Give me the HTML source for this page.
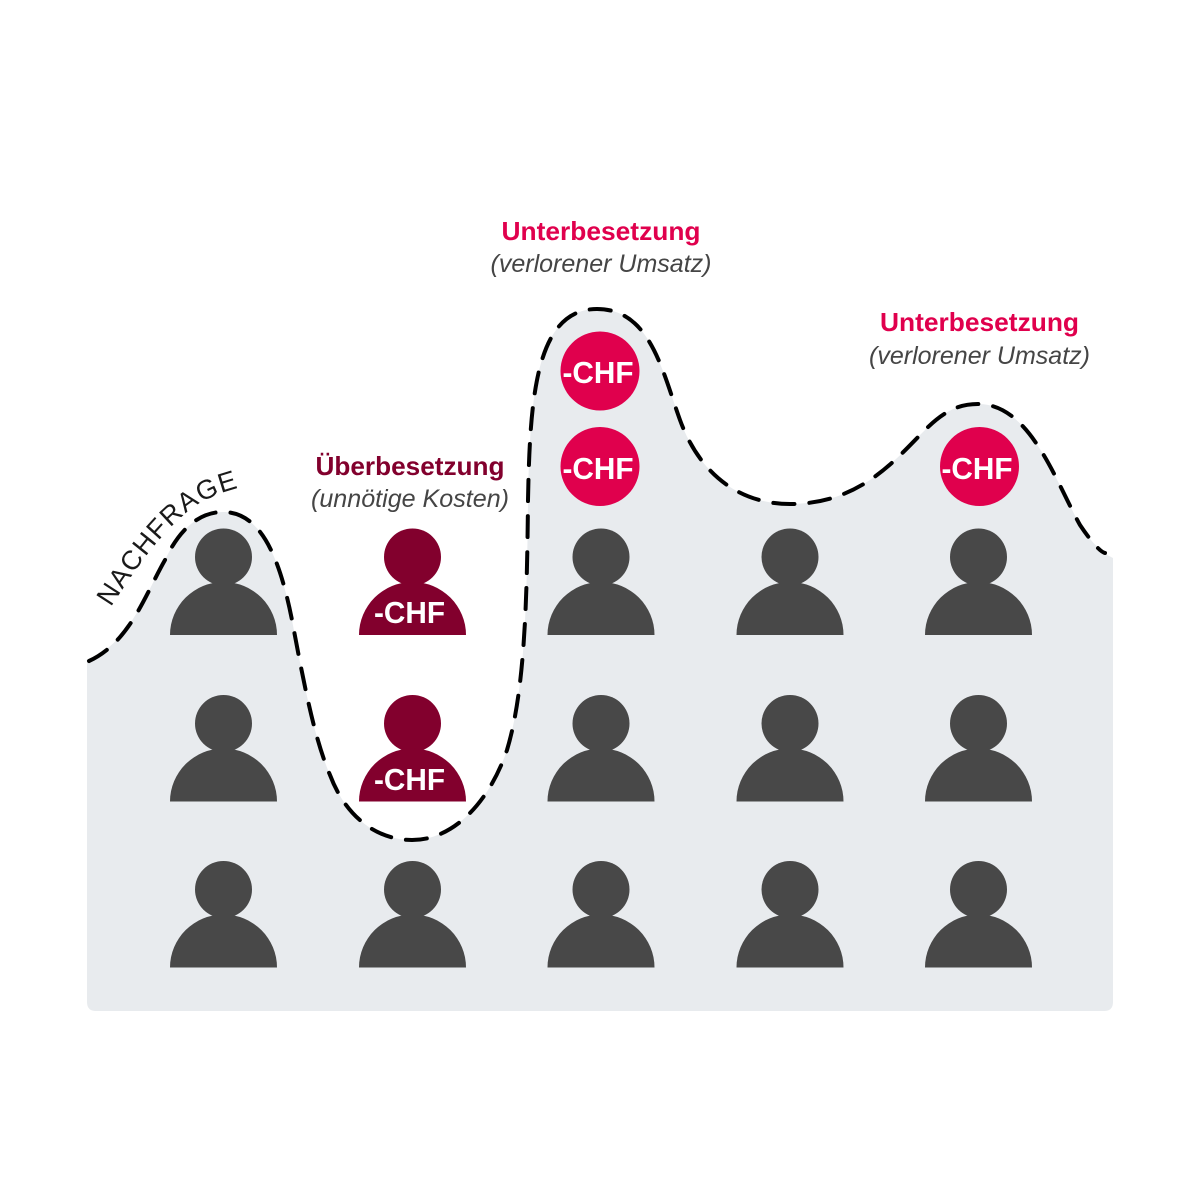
<!DOCTYPE html>
<html><head><meta charset="utf-8"><style>
html,body{margin:0;padding:0;background:#fff}
svg{display:block}
text{font-family:"Liberation Sans",sans-serif}
.t{font-size:26px;font-weight:700;text-anchor:middle}
.s{font-size:25px;font-style:italic;fill:#454545;text-anchor:middle}
.c{font-size:31px;font-weight:700;fill:#fff;text-anchor:middle}
</style></head><body>
<svg width="1200" height="1200" viewBox="0 0 1200 1200" xmlns="http://www.w3.org/2000/svg">
<defs>
<g id="p"><circle cx="0" cy="-78" r="28.5"/><path d="M-53.5 0A53.5 53 0 0 1 53.5 0Z"/></g>
<path id="tp" d="M111 607C135 570 165 525 200 503C213 496 225 491 242 487"/>
</defs>
<path fill="#e8ebee" d="M87 661C130 642 145 595 165 560C180 528 200 512 223 512C262 512 280 560 292 620C305 690 315 740 330 775C345 815 375 840 412 840C455 840 490 800 507 750C525 690 527 600 528 500C530 400 535 309 597 309C650 309 662 370 680 420C700 475 740 504 790 504C860 504 895 460 925 430C945 410 960 404 978 404C1030 404 1055 480 1080 525C1090 540 1100 552 1113 558V1002Q1113 1011 1104 1011H96Q87 1011 87 1002Z"/>
<path fill="none" stroke="#000" stroke-width="4" stroke-linecap="round" stroke-dasharray="21 15" d="M89 661C130 642 145 595 165 560C180 528 200 512 223 512C262 512 280 560 292 620C305 690 315 740 330 775C345 815 375 840 412 840C455 840 490 800 507 750C525 690 527 600 528 500C530 400 535 309 597 309C650 309 662 370 680 420C700 475 740 504 790 504C860 504 895 460 925 430C945 410 960 404 978 404C1030 404 1055 480 1080 525C1090 540 1100 552 1105 553"/>
<g fill="#484848">
<use href="#p" x="223.5" y="635"/><use href="#p" x="601" y="635"/><use href="#p" x="790" y="635"/><use href="#p" x="978.5" y="635"/>
<use href="#p" x="223.5" y="801.5"/><use href="#p" x="601" y="801.5"/><use href="#p" x="790" y="801.5"/><use href="#p" x="978.5" y="801.5"/>
<use href="#p" x="223.5" y="967.5"/><use href="#p" x="412.5" y="967.5"/><use href="#p" x="601" y="967.5"/><use href="#p" x="790" y="967.5"/><use href="#p" x="978.5" y="967.5"/>
</g>
<g fill="#82002d"><use href="#p" x="412.5" y="635"/><use href="#p" x="412.5" y="801.5"/></g>
<g fill="#e0004d"><circle cx="600" cy="371" r="39.5"/><circle cx="600" cy="466.500" r="39.500"/><circle cx="979.500" cy="466.500" r="39.500"/></g>
<text class="c" x="409.500" y="623" textLength="71" lengthAdjust="spacingAndGlyphs">-CHF</text>
<text class="c" x="409.500" y="790" textLength="71" lengthAdjust="spacingAndGlyphs">-CHF</text>
<text class="c" x="598" y="383" textLength="71" lengthAdjust="spacingAndGlyphs">-CHF</text>
<text class="c" x="598" y="479" textLength="71" lengthAdjust="spacingAndGlyphs">-CHF</text>
<text class="c" x="977" y="479" textLength="71" lengthAdjust="spacingAndGlyphs">-CHF</text>
<text class="t" fill="#e0004d" x="601" y="240" textLength="199" lengthAdjust="spacingAndGlyphs">Unterbesetzung</text>
<text class="s" x="601" y="272" textLength="221" lengthAdjust="spacingAndGlyphs">(verlorener Umsatz)</text>
<text class="t" fill="#e0004d" x="979.500" y="331" textLength="199" lengthAdjust="spacingAndGlyphs">Unterbesetzung</text>
<text class="s" x="979.500" y="364" textLength="221" lengthAdjust="spacingAndGlyphs">(verlorener Umsatz)</text>
<text class="t" fill="#82002d" x="410" y="475" textLength="189" lengthAdjust="spacingAndGlyphs">Überbesetzung</text>
<text class="s" x="410" y="507" textLength="198" lengthAdjust="spacingAndGlyphs">(unnötige Kosten)</text>
<text font-size="27" fill="#1a1a1a" letter-spacing="1.200"><textPath href="#tp">NACHFRAGE</textPath></text>
</svg>
</body></html>
